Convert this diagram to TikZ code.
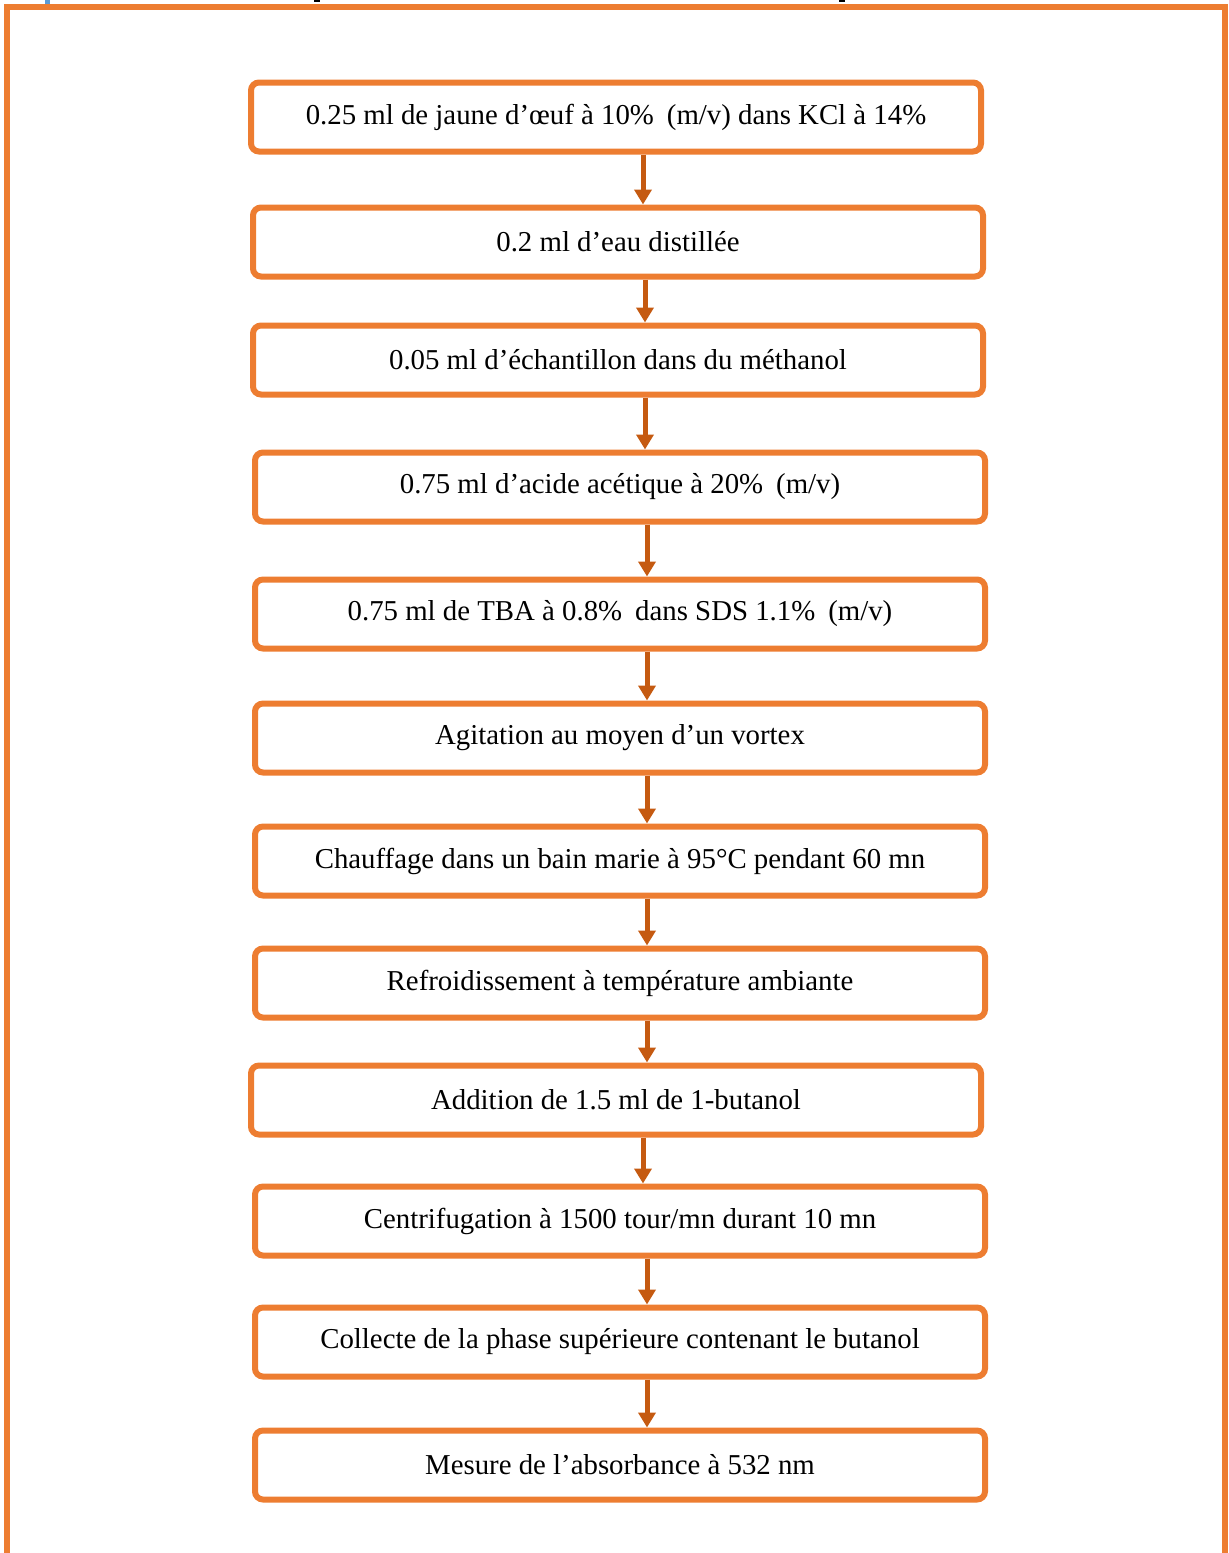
\documentclass[tikz,border=0pt]{standalone}
\usepackage{fontspec}
\setmainfont{Liberation Serif}
\usetikzlibrary{positioning, arrows.meta, calc}
\definecolor{cadreorange}{HTML}{ED7D31}
\definecolor{flecheorange}{HTML}{C55A11}
\definecolor{traitbleu}{HTML}{5B9BD5}

\tikzset{
  etape/.style={draw=cadreorange, line width=0.12cm, rounded corners=0.16cm,
    minimum width=14.6cm, minimum height=1.38cm, inner sep=0pt,
    font=\fontsize{16.4}{19}\selectfont},
  fleche/.style={-{Triangle[width=0.34cm, length=0.3cm]}, line width=0.1cm, flecheorange}
}
\newcommand{\ecart}{\hspace{0.45em}}

\begin{document}
\begin{tikzpicture}

    \useasboundingbox (0, 0) rectangle (24.56, -31.06);

    % Cadre autour de la figure
    \draw[cadreorange, line width=0.12cm] (0.13, -31.06) -- (0.13, -0.13) -- (24.5, -0.13) -- (24.5, -31.06);

    % Restes de la ligne au-dessus
    \fill[traitbleu] (0.9, 0) rectangle (1.0, -0.07);
    \fill[black] (6.28, 0) rectangle (6.4, -0.04);
    \fill[black] (16.78, 0) rectangle (16.9, -0.04);

    % Etapes du protocole
    \node[etape] (s1) at (12.32, -2.34) {0.25 ml de jaune d’œuf à 10\%\ecart(m/v) dans KCl à 14\%};
    \node[etape] (s2) at (12.36, -4.84) {0.2 ml d’eau distillée};
    \node[etape] (s3) at (12.36, -7.20) {0.05 ml d’échantillon dans du méthanol};
    \node[etape] (s4) at (12.40, -9.74) {0.75 ml d’acide acétique à 20\%\ecart(m/v)};
    \node[etape] (s5) at (12.40, -12.28) {0.75 ml de TBA à 0.8\%\ecart dans SDS 1.1\%\ecart(m/v)};
    \node[etape] (s6) at (12.40, -14.76) {Agitation au moyen d’un vortex};
    \node[etape] (s7) at (12.40, -17.22) {Chauffage dans un bain marie à 95°C pendant 60 mn};
    \node[etape] (s8) at (12.40, -19.66) {Refroidissement à température ambiante};
    \node[etape] (s9) at (12.32, -22.00) {Addition de 1.5 ml de 1-butanol};
    \node[etape] (s10) at (12.40, -24.42) {Centrifugation à 1500 tour/mn durant 10 mn};
    \node[etape] (s11) at (12.40, -26.84) {Collecte de la phase supérieure contenant le butanol};
    \node[etape] (s12) at (12.40, -29.30) {Mesure de l’absorbance à 532 nm};

    % Fleches entre les etapes
    \foreach \a/\b in {s1/s2, s2/s3, s3/s4, s4/s5, s5/s6, s6/s7, s7/s8, s8/s9, s9/s10, s10/s11, s11/s12} {
        \coordinate (haut) at ([xshift=0.54cm]\a.south);
        \draw[fleche] (haut) -- (haut |- \b.north);
    }

\end{tikzpicture}
\end{document}
